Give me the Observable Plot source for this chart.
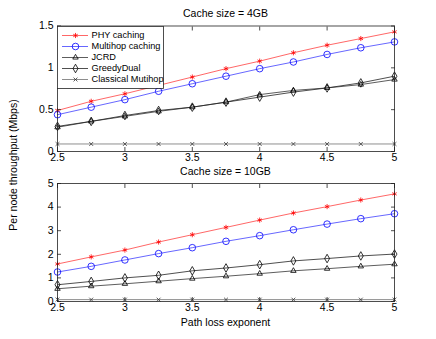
<!DOCTYPE html>
<html>
<head>
<meta charset="utf-8">
<script src="https://cdn.jsdelivr.net/npm/d3@7"></script>
<script src="https://cdn.jsdelivr.net/npm/@observablehq/plot@0.6"></script>
<style>
  body { margin: 0; background: white; }
  #c { position: relative; width: 436px; height: 339px; background: white; font-family: "Liberation Sans", Arial, sans-serif; color: black; }
  #c > * { position: absolute; }
  .t { font-size: 10.5px; white-space: nowrap; }
</style>
</head>
<body>
<div id="c"></div>
<script>
// ---- data ----
const xs = [2.5, 2.75, 3, 3.25, 3.5, 3.75, 4, 4.25, 4.5, 4.75, 5];
const series = ["PHY caching", "Multihop caching", "JCRD", "GreedyDual", "Classical Mutihop"];
const xTicks = [2.5, 3, 3.5, 4, 4.5, 5];
const yTicksTop = [0, 0.5, 1, 1.5];
const yTicksBottom = [0, 1, 2, 3, 4, 5];
const title4 = "Cache size = 4GB";
const title10 = "Cache size = 10GB";
const xLabel = "Path loss exponent";
const yLabel = "Per node throughput (Mbps)";

// Cache size = 4GB
const phy4      = [0.49, 0.60, 0.69, 0.79, 0.89, 0.99, 1.08, 1.18, 1.27, 1.35, 1.43];
const multihop4 = [0.44, 0.53, 0.62, 0.72, 0.81, 0.90, 0.99, 1.07, 1.16, 1.24, 1.31];
const jcrd4     = [0.29, 0.36, 0.42, 0.48, 0.53, 0.59, 0.68, 0.73, 0.76, 0.80, 0.86];
const greedy4   = [0.30, 0.36, 0.43, 0.49, 0.53, 0.59, 0.65, 0.71, 0.76, 0.82, 0.90];
const classic4  = [0.09, 0.09, 0.09, 0.09, 0.09, 0.09, 0.09, 0.09, 0.09, 0.09, 0.09];

// Cache size = 10GB
const phy10      = [1.59, 1.89, 2.18, 2.52, 2.83, 3.14, 3.45, 3.75, 4.02, 4.30, 4.56];
const multihop10 = [1.25, 1.49, 1.76, 2.03, 2.28, 2.55, 2.79, 3.04, 3.28, 3.51, 3.72];
const jcrd10     = [0.54, 0.65, 0.75, 0.86, 0.97, 1.07, 1.18, 1.30, 1.39, 1.49, 1.58];
const greedy10   = [0.71, 0.85, 1.00, 1.11, 1.30, 1.42, 1.56, 1.72, 1.82, 1.93, 2.01];
const classic10  = [0.08, 0.08, 0.08, 0.08, 0.08, 0.08, 0.08, 0.08, 0.08, 0.08, 0.08];

// ---- styles ----
const style = {
  "PHY caching":       {line: "#ff4040", mark: "#ff0000", symbol: "asterisk",  r: 2.4},
  "Multihop caching":  {line: "#4040ff", mark: "#0000ff", symbol: "circle",    r: 3.3},
  "JCRD":              {line: "#333333", mark: "#000000", symbol: "triangle2", r: 2.6},
  "GreedyDual":        {line: "#222222", mark: "#000000", symbol: "diamond",   r: 2.6},
  "Classical Mutihop": {line: "#707070", mark: "#333333", symbol: "times",     r: 1.9}
};

function rows(arrs) {
  const out = [];
  series.forEach((s, i) => xs.forEach((x, j) => out.push({x, y: arrs[i][j], s})));
  return out;
}
const data4 = rows([phy4, multihop4, jcrd4, greedy4, classic4]);
const data10 = rows([phy10, multihop10, jcrd10, greedy10, classic10]);

function seriesMarks(data) {
  const m = [];
  for (const s of series) {
    const d = data.filter(r => r.s === s);
    const st = style[s];
    m.push(Plot.line(d, {x: "x", y: "y", stroke: st.line, strokeWidth: 0.8}));
    m.push(Plot.dot(d, {x: "x", y: "y", symbol: st.symbol, r: st.r, stroke: st.mark, fill: "none", strokeWidth: 0.8}));
  }
  return m;
}

function axesMarks(yTicks) {
  const fmt = d => String(d);
  const none = () => "";
  const common = {stroke: "#222", strokeWidth: 0.8};
  return [
    Plot.axisX({ticks: xTicks, tickSize: 0, tickPadding: 2, tickFormat: fmt, label: null, fontSize: 10.5, fill: "black"}),
    Plot.axisX({ticks: xTicks, tickSize: 4, dy: -4, tickFormat: none, label: null, ...common}),
    Plot.axisX({anchor: "top", ticks: xTicks, tickSize: 4, dy: 4, tickFormat: none, label: null, ...common}),
    Plot.axisY({ticks: yTicks, tickSize: 0, tickPadding: 4, tickFormat: fmt, label: null, fontSize: 10.5, fill: "black"}),
    Plot.axisY({ticks: yTicks, tickSize: 4, dx: 4, tickFormat: none, label: null, ...common}),
    Plot.axisY({anchor: "right", ticks: yTicks, tickSize: 4, dx: -4, tickFormat: none, label: null, ...common}),
    Plot.frame({stroke: "#222", strokeWidth: 0.8})
  ];
}

const c = document.getElementById("c");

const p1 = Plot.plot({
  width: 436, height: 170,
  marginTop: 25.5, marginBottom: 19, marginLeft: 57, marginRight: 42,
  style: {fontFamily: "'Liberation Sans', Arial, sans-serif", fontSize: "10.5px", background: "transparent", overflow: "visible"},
  x: {domain: [2.5, 5]},
  y: {domain: [0, 1.5]},
  marks: [...seriesMarks(data4), ...axesMarks(yTicksTop)]
});
p1.style.left = "0px"; p1.style.top = "0px";
c.appendChild(p1);

const p2 = Plot.plot({
  width: 436, height: 169,
  marginTop: 13, marginBottom: 38, marginLeft: 57, marginRight: 42,
  style: {fontFamily: "'Liberation Sans', Arial, sans-serif", fontSize: "10.5px", background: "transparent", overflow: "visible"},
  x: {domain: [2.5, 5]},
  y: {domain: [0, 5]},
  marks: [...seriesMarks(data10), ...axesMarks(yTicksBottom)]
});
p2.style.left = "0px"; p2.style.top = "170px";
c.appendChild(p2);

// legend (drawn with Plot)
const legendRows = series.map(s => ({s}));
const lg = Plot.plot({
  width: 106, height: 62,
  marginTop: 0, marginBottom: 0, marginLeft: 0, marginRight: 0,
  style: {fontFamily: "'Liberation Sans', Arial, sans-serif", fontSize: "9.2px", background: "white", overflow: "visible"},
  x: {domain: [0, 106], range: [0, 106], axis: null},
  y: {type: "point", domain: series, range: [7.5, 55], padding: 0, axis: null},
  marks: [
    ...series.map(s => Plot.ruleY([s], {y: d => d, x1: 5, x2: 31, stroke: style[s].line, strokeWidth: 0.8})),
    ...series.map(s => Plot.dot([s], {y: d => d, x: 18, symbol: style[s].symbol, r: style[s].r, stroke: style[s].mark, fill: "none", strokeWidth: 0.8})),
    Plot.text(legendRows, {x: 34, y: "s", text: "s", textAnchor: "start", fill: "black", fontSize: 9.2}),
    Plot.frame({stroke: "#222", strokeWidth: 0.8})
  ]
});
lg.style.left = "57px"; lg.style.top = "25.5px";
c.appendChild(lg);

// texts
function addText(txt, x, y, extra) {
  const d = document.createElement("div");
  d.className = "t";
  d.textContent = txt;
  d.style.left = x + "px"; d.style.top = y + "px";
  d.style.transform = "translate(-50%, -50%)" + (extra || "");
  c.appendChild(d);
}
addText(title4, 225.5, 12.5);
addText(title10, 225.5, 171);
addText(xLabel, 225.5, 322);
addText(yLabel, 13, 165, " rotate(-90deg)");
</script>
</body>
</html>
